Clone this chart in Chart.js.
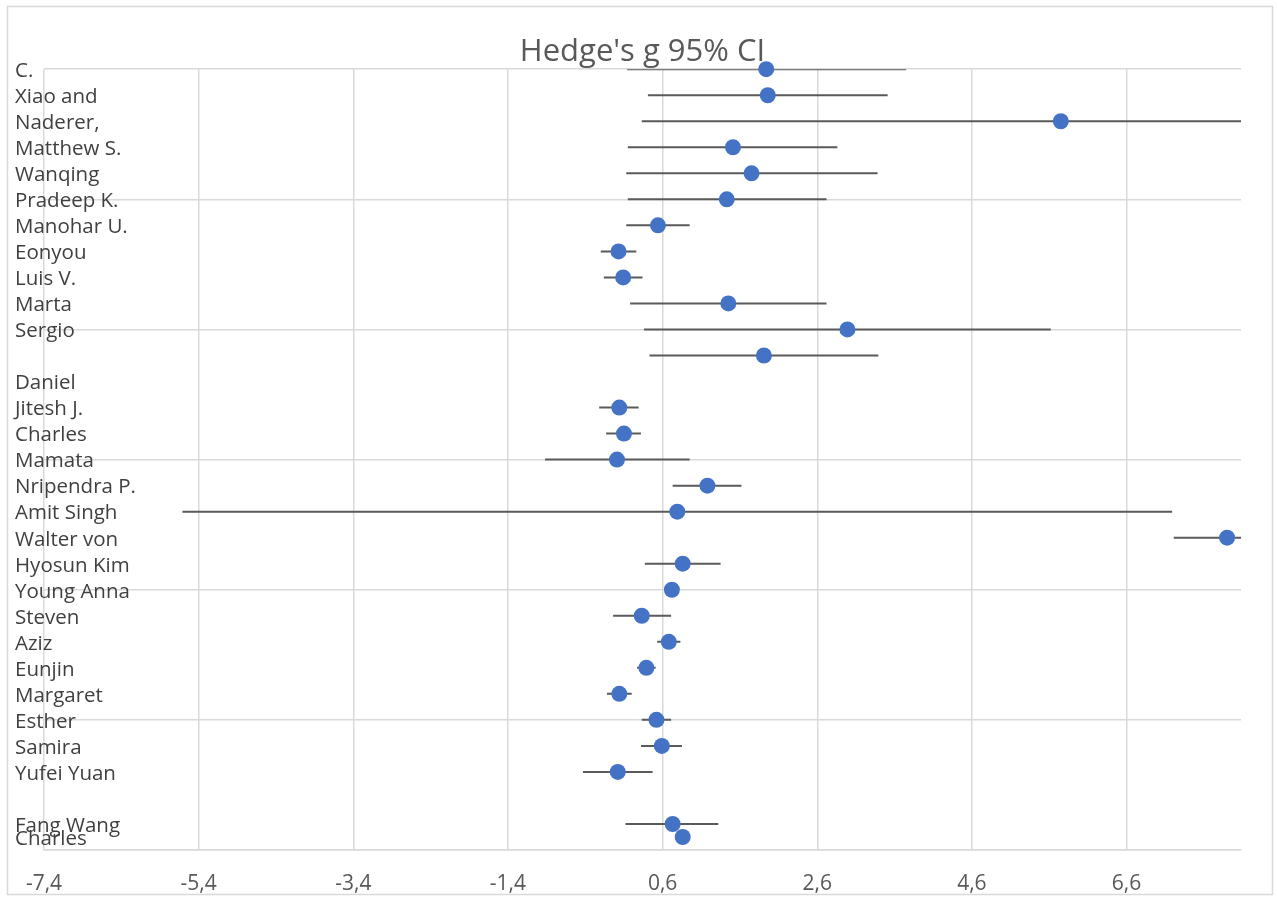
<!DOCTYPE html>
<html>
<head>
<meta charset="utf-8">
<script src="https://cdn.jsdelivr.net/npm/chart.js@4.4.1/dist/chart.umd.min.js"></script>
<style>
  html, body { margin: 0; padding: 0; background: #fff; }
  #wrap { width: 1277px; height: 899px; position: relative; }
</style>
</head>
<body>
<div id="wrap"><canvas id="c" width="1277" height="899"></canvas></div>
<script>
// ---- Data ----
const labelTexts = ["C.", "Xiao and", "Naderer,", "Matthew S.", "Wanqing", "Pradeep K.", "Manohar U.", "Eonyou", "Luis V.", "Marta", "Sergio", "Daniel", "Jitesh J.", "Charles", "Mamata", "Nripendra P.", "Amit Singh", "Walter von", "Hyosun Kim", "Young Anna", "Steven", "Aziz", "Eunjin", "Margaret", "Esther", "Samira", "Yufei Yuan", "Fang Wang", "Charles"];
const labelRows = [30, 29, 28, 27, 26, 25, 24, 23, 22, 21, 20, 18, 17, 16, 15, 14, 13, 12, 11, 10, 9, 8, 7, 6, 5, 4, 3, 1, 0.5];

const pointRows = [30, 29, 28, 27, 26, 25, 24, 23, 22, 21, 20, 19, 17, 16, 15, 14, 13, 12, 11, 10, 9, 8, 7, 6, 5, 4, 3, 1, 0.5];
const hedgesG   = [1.94, 1.96, 5.75, 1.51, 1.75, 1.43, 0.54, 0.03, 0.09, 1.45, 2.99, 1.91, 0.04, 0.10, 0.01, 1.18, 0.79, 7.90, 0.86, 0.72, 0.33, 0.68, 0.39, 0.04, 0.52, 0.59, 0.02, 0.73, 0.86];
const ciLower   = [0.14, 0.41, 0.33, 0.15, 0.13, 0.15, 0.13, -0.20, -0.16, 0.18, 0.36, 0.43, -0.22, -0.13, -0.92, 0.73, -5.61, 7.21, 0.37, 0.66, -0.04, 0.53, 0.27, -0.12, 0.33, 0.32, -0.43, 0.12, 0.80];
const ciUpper   = [3.75, 3.51, 9.20, 2.86, 3.38, 2.72, 0.95, 0.26, 0.34, 2.72, 5.62, 3.39, 0.29, 0.32, 0.95, 1.62, 7.19, 8.60, 1.35, 0.78, 0.71, 0.83, 0.51, 0.20, 0.71, 0.85, 0.47, 1.32, 0.92];

const xTickValues = [-7.4, -5.4, -3.4, -1.4, 0.6, 2.6, 4.6, 6.6];
const xMin = -7.4, xMax = 8.08;
const yMin = 0, yMax = 30, yStep = 5;

// ---- Build datasets ----
const ciSegments = [];
for (let i = 0; i < pointRows.length; i++) {
  ciSegments.push({ x: ciLower[i], y: pointRows[i] });
  ciSegments.push({ x: ciUpper[i], y: pointRows[i] });
  ciSegments.push({ x: null, y: null });
}
const points = pointRows.map((y, i) => ({ x: hedgesG[i], y: y }));

const FONT = "'Open Sans', 'Liberation Sans', sans-serif";

const frame = {
  id: 'frame',
  beforeDraw(chart) {
    const ctx = chart.ctx;
    ctx.save();
    ctx.fillStyle = '#ffffff';
    ctx.fillRect(0, 0, chart.width, chart.height);
    ctx.strokeStyle = '#d9d9d9';
    ctx.lineWidth = 1.5;
    ctx.strokeRect(7.5, 6.5, 1265, 888);
    ctx.restore();
  }
};

const rowLabels = {
  id: 'rowLabels',
  afterDraw(chart) {
    const ctx = chart.ctx;
    const ys = chart.scales.y;
    ctx.save();
    ctx.font = "20.5px " + FONT;
    ctx.fillStyle = '#404040';
    ctx.textAlign = 'left';
    ctx.textBaseline = 'middle';
    labelTexts.forEach((t, i) => {
      ctx.fillText(t, 15, ys.getPixelForValue(labelRows[i]) + 2);
    });
    ctx.restore();
  }
};

new Chart(document.getElementById('c'), {
  type: 'scatter',
  data: {
    datasets: [
      {
        label: 'CI',
        data: ciSegments,
        showLine: true,
        spanGaps: false,
        borderColor: '#5a5a5a',
        borderWidth: 2,
        pointRadius: 0,
        pointHoverRadius: 0,
        order: 2
      },
      {
        label: "Hedge's g",
        data: points,
        backgroundColor: '#4472C4',
        borderColor: '#4472C4',
        borderWidth: 0,
        pointRadius: 8,
        pointHoverRadius: 8,
        clip: false,
        order: 1
      }
    ]
  },
  options: {
    responsive: false,
    animation: false,
    events: [],
    layout: { padding: { left: 44, right: 36, top: 31, bottom: 3 } },
    plugins: {
      legend: { display: false },
      tooltip: { enabled: false },
      title: {
        display: true,
        text: "Hedge's g 95% CI",
        color: '#595959',
        font: { family: FONT, size: 31, weight: 'normal' },
        padding: { top: 3, bottom: -2 }
      }
    },
    scales: {
      x: {
        type: 'linear',
        min: xMin,
        max: xMax,
        afterBuildTicks(scale) {
          scale.ticks = xTickValues.map(v => ({ value: v }));
        },
        afterFit(scale) {
          scale.height = 46;
        },
        ticks: {
          color: '#595959',
          font: { family: FONT, size: 21 },
          padding: 21,
          maxRotation: 0,
          autoSkip: false,
          callback: v => Number(v).toFixed(1).replace('.', ',')
        },
        grid: { color: '#d9d9d9', lineWidth: 1.5, drawTicks: false },
        border: { display: true, color: '#d9d9d9', width: 1.5 }
      },
      y: {
        type: 'linear',
        min: yMin,
        max: yMax,
        ticks: { display: false, stepSize: yStep },
        grid: { color: '#d9d9d9', lineWidth: 1.5, drawTicks: false },
        border: { display: false }
      }
    }
  },
  plugins: [frame, rowLabels]
});
</script>
</body>
</html>
